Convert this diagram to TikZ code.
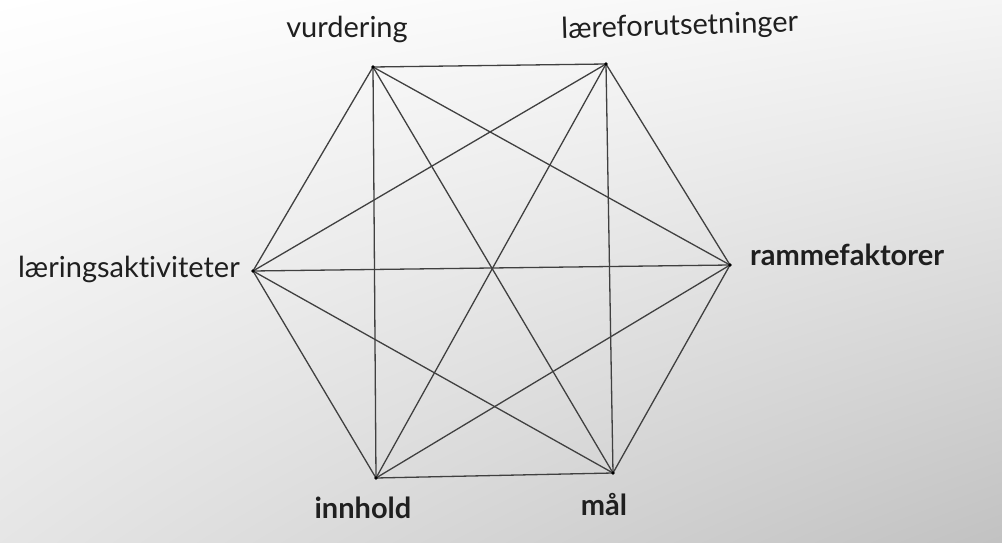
\documentclass[tikz,border=0pt]{standalone}
\usepackage{fontspec}
\setmainfont[Ligatures=CommonOff]{Lato}
\usetikzlibrary{shadings}
\begin{document}
\begin{tikzpicture}[x=1pt,y=1pt,
  vtx/.style={circle,fill=black,inner sep=0pt,minimum size=3.6pt},
  edge/.style={draw=black!75,line width=1.3pt},
  lbl/.style={font=\fontsize{29}{34}\selectfont,text=black!88,inner sep=0pt},
  blbl/.style={lbl,font=\fontsize{29}{34}\selectfont\bfseries}]
\shade[upper left=white,upper right=white!96!black,lower left=white!90!black,lower right=black!24] (0,0) rectangle (1002,542);
\useasboundingbox (0,0) rectangle (1002,542);
\coordinate (V) at (373,475);
\coordinate (L) at (606,478);
\coordinate (R) at (730,277);
\coordinate (M) at (613,69);
\coordinate (I) at (376,64);
\coordinate (A) at (253,271);
\foreach \a/\b in {V/L,V/R,V/M,V/I,V/A,L/R,L/M,L/I,L/A,R/M,R/I,R/A,M/I,M/A,I/A}
  \draw[edge] (\a) -- (\b);
\foreach \p in {V,L,R,M,I,A} \node[vtx] (n\p) at (\p) {};
\node[lbl,anchor=base] (tV) at (347,504) {vurdering};
\node[lbl,anchor=base,rotate=1.7] (tL) at (680,507) {læreforutsetninger};
\node[lbl,anchor=base east] (tA) at (240,265) {læringsaktiviteter};
\node[blbl,anchor=base west] (tR) at (750,277) {rammefaktorer};
\node[blbl,anchor=base] (tI) at (363,24) {innhold};
\node[blbl,anchor=base] (tM) at (604,27) {mål};
\end{tikzpicture}
\end{document}
